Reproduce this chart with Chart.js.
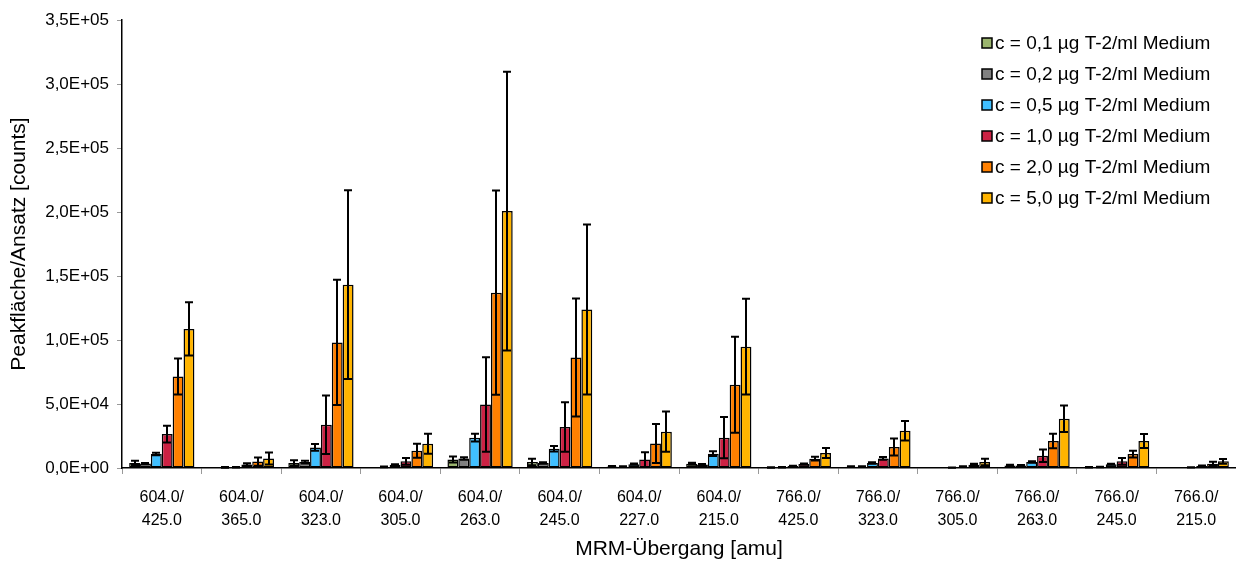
<!DOCTYPE html>
<html lang="de">

<head>
  <meta charset="UTF-8">
  <title>MRM-Übergang</title>
  <script src="https://cdn.jsdelivr.net/npm/chart.js"></script>
</head>

<style>
  body {
    margin: 0;
    background: #fff;
    overflow: hidden;
  }
</style>

<body>
  <canvas id="mrmChart" width="1236" height="563"></canvas>

  <script>
    // categories (MRM transitions)
    const categories = [
      ['604.0/', '425.0'], ['604.0/', '365.0'], ['604.0/', '323.0'], ['604.0/', '305.0'],
      ['604.0/', '263.0'], ['604.0/', '245.0'], ['604.0/', '227.0'], ['604.0/', '215.0'],
      ['766.0/', '425.0'], ['766.0/', '323.0'], ['766.0/', '305.0'], ['766.0/', '263.0'],
      ['766.0/', '245.0'], ['766.0/', '215.0']
    ];

    const yTickLabels = ['0,0E+00', '5,0E+04', '1,0E+05', '1,5E+05', '2,0E+05', '2,5E+05', '3,0E+05', '3,5E+05'];

    const seriesNames = [
      'c = 0,1 µg T-2/ml Medium',
      'c = 0,2 µg T-2/ml Medium',
      'c = 0,5 µg T-2/ml Medium',
      'c = 1,0 µg T-2/ml Medium',
      'c = 2,0 µg T-2/ml Medium',
      'c = 5,0 µg T-2/ml Medium'
    ];

    // mean values
    const c01 = [4000, 300, 4000, 200, 6600, 4700, 1200, 3300, 400, 1000, 200, 2000, 500, 0];
    const c02 = [3500, 500, 4600, 800, 7400, 3900, 1000, 2700, 600, 1000, 0, 2000, 700, 0];
    const c05 = [11000, 600, 16100, 2600, 23700, 15000, 3000, 11200, 1500, 3900, 300, 4700, 2900, 500];
    const c10 = [26500, 2700, 33800, 5200, 49600, 32000, 6600, 23700, 3100, 7500, 1000, 9600, 5200, 1500];
    const c20 = [71500, 5000, 98100, 13500, 137000, 86400, 19200, 65000, 7300, 16400, 2600, 21100, 10900, 3300];
    const c50 = [108600, 7500, 143200, 19000, 200700, 123900, 28400, 94800, 11700, 29100, 4700, 38500, 21100, 5200];

    // standard deviations
    const e01 = [1700, 0, 2000, 0, 2400, 2500, 300, 800, 200, 300, 0, 500, 200, 0];
    const e02 = [500, 300, 1000, 300, 1000, 500, 300, 500, 200, 300, 0, 400, 200, 0];
    const e05 = [1000, 200, 2600, 300, 3000, 2200, 500, 1800, 300, 500, 100, 600, 400, 100];
    const e10 = [6500, 1000, 22900, 2600, 37000, 19300, 5800, 16100, 500, 1000, 300, 4900, 2600, 500];
    const e20 = [14000, 3300, 48900, 5500, 79800, 46100, 15200, 37500, 1500, 6700, 800, 5700, 2600, 1500];
    const e50 = [20800, 4700, 73700, 7800, 108900, 66400, 15800, 37400, 3900, 7600, 2500, 10400, 5500, 1800];

    const values = [c01, c02, c05, c10, c20, c50];
    const errors = [e01, e02, e05, e10, e20, e50];
    const colors = ['#9bb56e', '#808080', '#40bfff', '#cc2244', '#ff8000', '#ffb400'];

    const fontFamily = '"Liberation Sans", Arial, sans-serif';

    // draws the +/- error bars on top of every bar
    const errorBars = {
      id: 'errorBars',
      afterDatasetsDraw(chart) {
        const ctx = chart.ctx;
        const yScale = chart.scales.y;
        ctx.save();
        ctx.strokeStyle = '#000';
        ctx.lineWidth = 2;
        chart.data.datasets.forEach((ds, i) => {
          const meta = chart.getDatasetMeta(i);
          meta.data.forEach((bar, j) => {
            const v = ds.data[j];
            const e = ds.errors[j];
            if (!e) return;
            const top = yScale.getPixelForValue(v + e);
            const bot = yScale.getPixelForValue(Math.max(0, v - e));
            const x = Math.round(bar.x);
            ctx.beginPath();
            ctx.moveTo(x, top);
            ctx.lineTo(x, bot);
            ctx.moveTo(x - 4, top);
            ctx.lineTo(x + 4, top);
            ctx.moveTo(x - 4, bot);
            ctx.lineTo(x + 4, bot);
            ctx.stroke();
          });
        });
        ctx.restore();
      }
    };

    // legend in the upper right corner of the plot
    const boxLegend = {
      id: 'boxLegend',
      afterDraw(chart) {
        const ctx = chart.ctx;
        ctx.save();
        ctx.font = '19px ' + fontFamily;
        ctx.textBaseline = 'middle';
        chart.data.datasets.forEach((ds, i) => {
          const y = 43 + i * 31;
          ctx.fillStyle = ds.backgroundColor;
          ctx.fillRect(982, y - 5, 10, 10);
          ctx.strokeStyle = '#000';
          ctx.lineWidth = 1.5;
          ctx.strokeRect(982, y - 5, 10, 10);
          ctx.fillStyle = '#000';
          ctx.fillText(ds.label, 995, y + 1);
        });
        ctx.restore();
      }
    };

    new Chart(document.getElementById('mrmChart'), {
      type: 'bar',
      data: {
        labels: categories,
        datasets: values.map((vals, i) => ({
          label: seriesNames[i],
          data: vals,
          errors: errors[i],
          backgroundColor: colors[i],
          borderColor: '#000',
          borderWidth: 1.5,
          borderSkipped: false,
          categoryPercentage: 0.82,
          barPercentage: 1.0
        }))
      },
      options: {
        responsive: false,
        animation: false,
        layout: { padding: { top: 20, left: 0, right: 0, bottom: 0 } },
        plugins: {
          legend: { display: false },
          tooltip: { enabled: false }
        },
        scales: {
          x: {
            afterFit: (s) => { s.height = 95; },
            grid: { drawOnChartArea: false, offset: true, tickLength: 6, color: '#999' },
            border: { display: true, color: '#000', width: 1.5 },
            ticks: {
              color: '#000',
              padding: 12,
              maxRotation: 0,
              font: { family: fontFamily, size: 16, lineHeight: 1.45 }
            },
            title: {
              display: true,
              text: 'MRM-Übergang [amu]',
              color: '#000',
              padding: { top: 0, bottom: 1 },
              font: { family: fontFamily, size: 21 }
            }
          },
          y: {
            min: 0,
            max: 350000,
            afterFit: (s) => { s.width = 122; },
            grid: { drawOnChartArea: false, tickLength: 5, color: '#999' },
            border: { display: true, color: '#000', width: 1.5 },
            ticks: {
              stepSize: 50000,
              color: '#000',
              padding: 8,
              font: { family: fontFamily, size: 17 },
              callback: (value, index) => yTickLabels[index]
            },
            title: {
              display: true,
              text: 'Peakfläche/Ansatz [counts]',
              color: '#000',
              padding: { top: 7, bottom: 0 },
              font: { family: fontFamily, size: 21 }
            }
          }
        }
      },
      plugins: [errorBars, boxLegend]
    });
  </script>
</body>

</html>
